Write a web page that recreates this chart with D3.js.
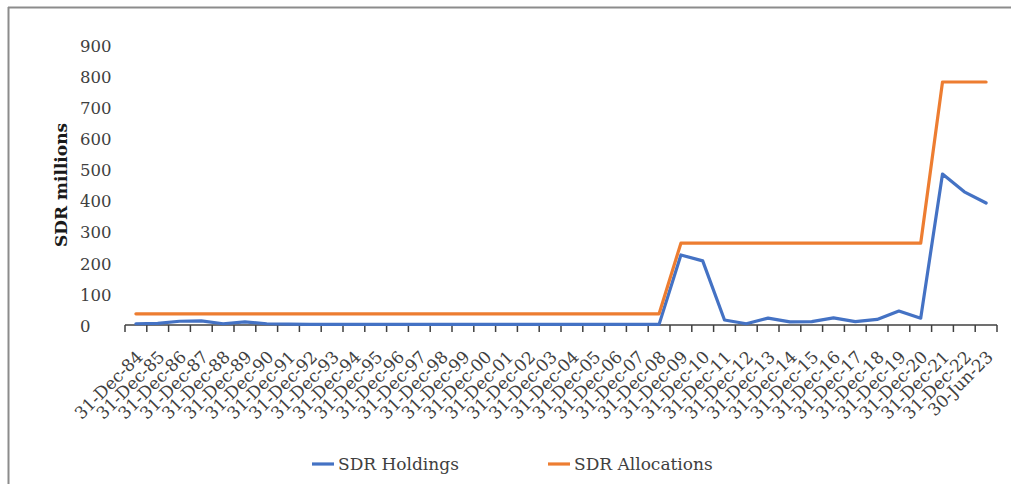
<!DOCTYPE html>
<html>
<head>
<meta charset="utf-8">
<script src="https://cdn.jsdelivr.net/npm/d3@7"></script>
<style>
  html, body { margin: 0; padding: 0; background: #fff; }
  svg { display: block; }
</style>
</head>
<body>
<svg id="chart" width="1011" height="484"></svg>
<script>
// Period-end dates
const categories = [
  "31-Dec-84","31-Dec-85","31-Dec-86","31-Dec-87","31-Dec-88","31-Dec-89",
  "31-Dec-90","31-Dec-91","31-Dec-92","31-Dec-93","31-Dec-94","31-Dec-95",
  "31-Dec-96","31-Dec-97","31-Dec-98","31-Dec-99","31-Dec-00","31-Dec-01",
  "31-Dec-02","31-Dec-03","31-Dec-04","31-Dec-05","31-Dec-06","31-Dec-07",
  "31-Dec-08","31-Dec-09","31-Dec-10","31-Dec-11","31-Dec-12","31-Dec-13",
  "31-Dec-14","31-Dec-15","31-Dec-16","31-Dec-17","31-Dec-18","31-Dec-19",
  "31-Dec-20","31-Dec-21","31-Dec-22","30-Jun-23"
];

// SDR millions
const sdrHoldings = [
  4, 5, 12, 13, 4, 10, 4, 3, 2, 2, 2, 2,
  2, 2, 2, 2, 2, 2, 2, 2, 2, 2, 2, 2,
  2, 225, 206, 16, 4, 22, 10, 11, 23, 11, 18, 45,
  22, 485, 428, 392
];
const sdrAllocations = [
  36, 36, 36, 36, 36, 36, 36, 36, 36, 36, 36, 36,
  36, 36, 36, 36, 36, 36, 36, 36, 36, 36, 36, 36,
  36, 263, 263, 263, 263, 263, 263, 263, 263, 263, 263, 263,
  263, 781, 781, 781
];

const yTicks = [0, 100, 200, 300, 400, 500, 600, 700, 800, 900];

const seriesNames = ["SDR Holdings", "SDR Allocations"];
const seriesColors = ["#4472C4", "#ED7D31"];

const svg = d3.select("#chart");
const W = 1011, H = 484;
const serif = "'DejaVu Serif', 'Liberation Serif', serif";
const textColor = "#404040";

// Frame lines (top and left)
svg.append("line").attr("x1", 8).attr("x2", W).attr("y1", 7.5).attr("y2", 7.5)
  .attr("stroke", "#8c8c8c").attr("stroke-width", 2);
svg.append("line").attr("x1", 8.5).attr("x2", 8.5).attr("y1", 7).attr("y2", H)
  .attr("stroke", "#8c8c8c").attr("stroke-width", 2);

const x = d3.scaleBand().domain(categories).range([125, 997]).paddingInner(0).paddingOuter(0);
const y = d3.scaleLinear().domain([0, 900]).range([325, 45]);
const cx = d => x(d) + x.bandwidth() / 2;

// Y tick labels
svg.append("g").selectAll("text").data(yTicks).join("text")
  .attr("x", 80).attr("y", d => y(d) + 1)
  .attr("dy", "0.35em")
  .attr("font-family", serif).attr("font-size", 16.5)
  .attr("fill", textColor)
  .text(d => d);

// Y axis title
svg.append("text")
  .attr("transform", "translate(61,185) rotate(-90)")
  .attr("text-anchor", "middle").attr("dy", "0.35em")
  .attr("font-family", serif).attr("font-size", 17).attr("font-weight", "bold")
  .attr("fill", "#1a1a1a")
  .text("SDR millions");

// X axis with ticks at category boundaries
const axisG = svg.append("g");
axisG.append("line")
  .attr("x1", x.range()[0]).attr("x2", x.range()[1])
  .attr("y1", y(0)).attr("y2", y(0))
  .attr("stroke", "#404040").attr("stroke-width", 1.5);
const boundaries = categories.map(c => x(c)).concat([x.range()[1]]);
axisG.selectAll("line.tick").data(boundaries).join("line")
  .attr("class", "tick")
  .attr("x1", d => d).attr("x2", d => d)
  .attr("y1", y(0)).attr("y2", y(0) + 7)
  .attr("stroke", "#404040").attr("stroke-width", 1.5);

// Rotated category labels
axisG.selectAll("text").data(categories).join("text")
  .attr("transform", d => `translate(${cx(d) + 8},${y(0) + 33}) rotate(-45)`)
  .attr("text-anchor", "end")
  .attr("font-family", serif).attr("font-size", 17)
  .attr("fill", textColor)
  .text(d => d);

// Lines
const line = d3.line().x((d, i) => cx(categories[i])).y(d => y(d));
[sdrHoldings, sdrAllocations].forEach((vals, k) => {
  svg.append("path").datum(vals)
    .attr("d", line)
    .attr("fill", "none")
    .attr("stroke", seriesColors[k])
    .attr("stroke-width", 3.2)
    .attr("stroke-linejoin", "round")
    .attr("stroke-linecap", "round");
});

// Legend
const legendItems = [
  { name: seriesNames[0], color: seriesColors[0], x: 312 },
  { name: seriesNames[1], color: seriesColors[1], x: 548 }
];
const lg = svg.append("g").selectAll("g").data(legendItems).join("g")
  .attr("transform", d => `translate(${d.x},464)`);
lg.append("line").attr("x1", 0).attr("x2", 22).attr("y1", 0).attr("y2", 0)
  .attr("stroke", d => d.color).attr("stroke-width", 3.2);
lg.append("text").attr("x", 26).attr("dy", "0.35em")
  .attr("font-family", serif).attr("font-size", 17)
  .attr("fill", textColor)
  .text(d => d.name);
</script>
</body>
</html>
